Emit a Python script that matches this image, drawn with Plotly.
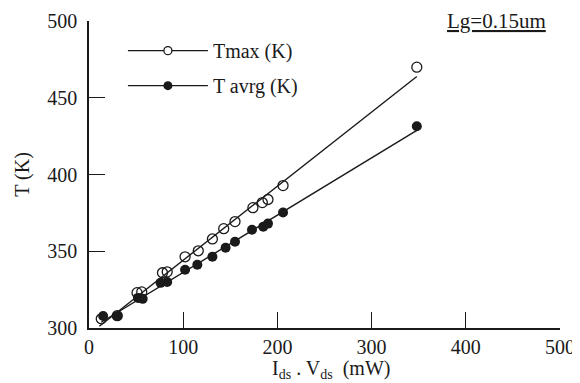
import numpy as np
import plotly.graph_objects as go

# Data (power in mW, temperature in K)
p_max = [13, 30, 51, 56, 78, 83, 102, 116, 131, 143, 155, 174, 184, 190, 206, 348]
t_max = [306, 308, 323, 323.5, 336, 336.6, 346.4, 350.3, 358, 364.7, 369.3, 378.4, 381.7, 383.7, 392.8, 469.9]
p_avg = [15, 30, 52, 57, 76, 83, 102, 115, 131, 145, 155, 173, 185, 190, 206, 348]
t_avg = [307.8, 307.8, 319.6, 319, 329.4, 330, 337.9, 341.2, 346.4, 352.3, 356.2, 364, 366, 368, 375.2, 431.4]

x_ticks = [0, 100, 200, 300, 400, 500]
y_ticks = [300, 350, 400, 450, 500]

FONT = "Liberation Serif"
INK = "#1a1a1a"

def fit_line(px, py):
    k, b = np.polyfit(px, py, 1)
    xs = np.array([min(px) - 2, max(px)])
    return xs, k * xs + b

fig = go.Figure()

for px, py in [(p_max, t_max), (p_avg, t_avg)]:
    xs, ys = fit_line(px, py)
    fig.add_trace(go.Scatter(x=xs, y=ys, mode="lines", line=dict(color=INK, width=1.4),
                             showlegend=False, hoverinfo="skip"))

fig.add_trace(go.Scatter(x=p_max, y=t_max, mode="markers", showlegend=False,
                         marker=dict(symbol="circle-open", size=10, color=INK, line=dict(width=1.3))))
fig.add_trace(go.Scatter(x=p_avg, y=t_avg, mode="markers", showlegend=False,
                         marker=dict(symbol="circle", size=10, color=INK)))

# legend entries
fig.add_trace(go.Scatter(x=[None], y=[None], mode="lines+markers", name="Tmax (K)", legendgroup="a",
                         line=dict(color=INK, width=1.4),
                         marker=dict(symbol="circle", size=8, color="white", line=dict(color=INK, width=1.3))))
fig.add_trace(go.Scatter(x=[None], y=[None], mode="lines+markers", name="T avrg (K)", legendgroup="b",
                         line=dict(color=INK, width=1.4),
                         marker=dict(symbol="circle", size=9, color=INK)))

fig.add_annotation(text="<u>Lg=0.15um</u>", xref="paper", yref="paper", x=0.865, y=1.0,
                   xanchor="center", yanchor="middle", showarrow=False,
                   font=dict(family=FONT, size=21, color=INK))

# x-axis title (placed as an annotation so it can sit close to the tick labels)
fig.add_annotation(text="I<sub>ds</sub> . V<sub>ds</sub>  (mW)", xref="paper", yref="paper",
                   x=0.514, y=-0.088, xanchor="center", yanchor="top", showarrow=False,
                   font=dict(family=FONT, size=20, color=INK))

# the page body adds an 8 px offset, so the figure is sized 8 px smaller each way
fig.update_layout(
    width=572, height=375,
    margin=dict(l=81, r=20, t=13, b=55, autoexpand=False),
    paper_bgcolor="white", plot_bgcolor="white",
    font=dict(family=FONT, size=20, color=INK),
    legend=dict(x=0.072, y=0.967, xanchor="left", yanchor="top", bgcolor="rgba(0,0,0,0)",
                itemwidth=80, tracegroupgap=6, font=dict(family=FONT, size=20, color=INK)),
)
fig.update_xaxes(range=[0, 500], tickvals=x_ticks, ticks="inside", ticklen=16, tickwidth=1.3,
                 tickcolor=INK, showline=True, linecolor=INK, linewidth=1.5, showgrid=False,
                 zeroline=False, tickfont=dict(family=FONT, size=20), ticklabeloverflow="allow",
                 automargin=False)
fig.update_yaxes(range=[300, 500], tickvals=y_ticks, ticks="inside", ticklen=16, tickwidth=1.3,
                 tickcolor=INK, showline=True, linecolor=INK, linewidth=1.5, showgrid=False,
                 zeroline=False, tickfont=dict(family=FONT, size=20), ticklabelstandoff=6,
                 automargin=False,
                 title=dict(text="T (K)", standoff=12, font=dict(family=FONT, size=20)))

fig.write_html("out.html")
